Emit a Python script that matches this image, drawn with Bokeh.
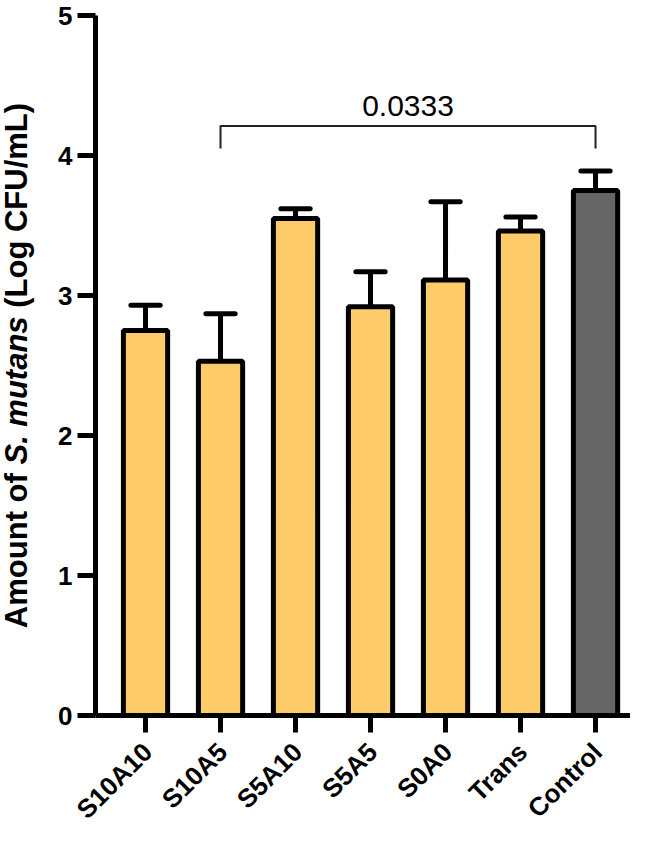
import math
from bokeh.plotting import figure
from bokeh.layouts import row, column
from bokeh.models import Range1d, FixedTicker
from bokeh.embed import file_html
from bokeh.resources import INLINE
from bokeh.core.properties import value

# ---------------- data ----------------
groups = ["S10A10", "S10A5", "S5A10", "S5A5", "S0A0", "Trans", "Control"]
means = [2.75, 2.53, 3.55, 2.92, 3.11, 3.46, 3.75]
sd_upper = [0.18, 0.34, 0.07, 0.25, 0.56, 0.10, 0.14]
bar_colors = ["#FDCB69", "#FDCB69", "#FDCB69", "#FDCB69", "#FDCB69", "#FDCB69", "#656565"]
y_ticks = [0, 1, 2, 3, 4, 5]
comparison = ("S10A5", "Control")
p_value_text = "0.0333"
bracket_level = 4.21
bracket_drop = 0.16
title_parts = ["Amount of", "S. mutans", "(Log CFU/mL)"]
title_styles = ["bold", "bold italic", "bold"]

# ---------------- layout ----------------
W, H = 630, 825
TITLE_W = 40
MAIN_H = 735
LEFT, TOP, BOTTOM = 95, 15, 20
FRAME_H = MAIN_H - TOP - BOTTOM
FRAME_W = W - LEFT
PX_PER_CAT = 75.0
X_START = -0.667
X_END = X_START + FRAME_W / PX_PER_CAT
Y_START, Y_END = 0, 5
PX_PER_Y = FRAME_H / (Y_END - Y_START)
FONT = "Liberation Sans"
LABEL_H = H - MAIN_H

def clean(fig):
    fig.outline_line_color = None
    fig.xgrid.visible = False
    fig.ygrid.visible = False
    fig.background_fill_color = "white"
    fig.border_fill_color = "white"

p = figure(width=W - TITLE_W, height=MAIN_H, output_backend="svg", toolbar_location=None,
           x_range=Range1d(X_START, X_END), y_range=Range1d(Y_START, Y_END),
           min_border_left=LEFT - TITLE_W, min_border_top=TOP, min_border_right=0,
           min_border_bottom=BOTTOM)
clean(p)

xs = list(range(len(groups)))
upper = [m + s for m, s in zip(means, sd_upper)]
cap_half = 0.195

# error bars (upper only)
p.segment(x0=xs, y0=means, x1=xs, y1=upper, line_color="black", line_width=5)
p.segment(x0=[x - cap_half for x in xs], y0=upper, x1=[x + cap_half for x in xs], y1=upper,
          line_color="black", line_width=5, line_cap="round")

# bars
p.vbar(x=xs, top=means, bottom=0, width=0.59, fill_color=bar_colors,
       line_color="black", line_width=5)

# significance bracket
i0, i1 = groups.index(comparison[0]), groups.index(comparison[1])
p.line(x=[i0, i0, i1, i1],
       y=[bracket_level - bracket_drop, bracket_level, bracket_level, bracket_level - bracket_drop],
       line_color="#222222", line_width=2)
p.text(x=[(i0 + i1) / 2], y=[bracket_level + 20 / PX_PER_Y], text=[p_value_text],
       text_font=value(FONT), text_font_size="30px", text_align="center",
       text_baseline="alphabetic", text_color="black")

# axes
for ax in (p.xaxis[0], p.yaxis[0]):
    ax.axis_line_width = 5
    ax.axis_line_color = "black"
    ax.major_tick_line_width = 5
    ax.major_tick_line_color = "black"
    ax.major_tick_in = 0
    ax.minor_tick_line_color = None
    ax.major_label_text_font = FONT
    ax.major_label_text_font_style = "bold"
    ax.major_label_text_font_size = "26px"
    ax.major_label_text_color = "black"
    ax.axis_label = None

p.yaxis.ticker = FixedTicker(ticks=y_ticks)
p.yaxis.major_tick_out = 18
p.yaxis.major_label_standoff = 5

p.xaxis.ticker = FixedTicker(ticks=xs)
p.xaxis.major_tick_out = 17
p.xaxis.major_label_overrides = {i: "" for i in xs}
p.xaxis.major_label_text_font_size = "1px"
p.xaxis.major_label_standoff = 0

# ---------------- rotated category labels (strip below the axis) ----------------
lbl = figure(width=W, height=LABEL_H, output_backend="svg", toolbar_location=None,
             x_range=Range1d(X_START - LEFT / PX_PER_CAT, X_END), y_range=Range1d(H, MAIN_H),
             x_axis_type=None, y_axis_type=None,
             min_border_left=0, min_border_right=0, min_border_top=0, min_border_bottom=0)
clean(lbl)
LABEL_ANCHOR_Y = 747
lbl.text(x=xs, y=[LABEL_ANCHOR_Y] * len(xs), text=groups, angle=math.pi / 4,
         x_offset=2, text_align="right", text_baseline="middle",
         text_font=value(FONT), text_font_style="bold", text_font_size="26px",
         text_color="black")

# ---------------- rotated y-axis title (strip at the left) ----------------
t = figure(width=TITLE_W, height=MAIN_H, output_backend="svg", toolbar_location=None,
           x_range=Range1d(0, TITLE_W), y_range=Range1d(Y_START, Y_END),
           x_axis_type=None, y_axis_type=None,
           min_border_left=0, min_border_right=0, min_border_top=TOP, min_border_bottom=BOTTOM)
clean(t)

F = 31
adv = {" ": 278, "A": 722, "m": 889, "o": 611, "u": 611, "n": 611, "t": 333, "f": 333,
       "S": 667, ".": 278, "a": 556, "s": 556, "(": 333, ")": 333, "L": 611, "g": 611,
       "C": 722, "F": 611, "U": 722, "/": 278}
def width_px(s):
    return sum(adv.get(c, 600) for c in s) / 1000.0 * F

space = adv[" "] / 1000.0 * F
total = sum(width_px(s) for s in title_parts) + space * (len(title_parts) - 1)
cursor = (Y_END - Y_START) / 2 * PX_PER_Y - total / 2
starts = []
for s in title_parts:
    starts.append(Y_START + cursor / PX_PER_Y)
    cursor += width_px(s) + space
title_x = 16
for s, y0, style in zip(title_parts, starts, title_styles):
    t.text(x=[title_x], y=[y0], text=[s], angle=math.pi / 2, text_align="left",
           text_baseline="alphabetic", text_font=value(FONT), text_font_style=style,
           text_font_size=f"{F}px", text_color="black")

layout = column(row(t, p), lbl)
open("out.html", "w").write(file_html(layout, INLINE))
